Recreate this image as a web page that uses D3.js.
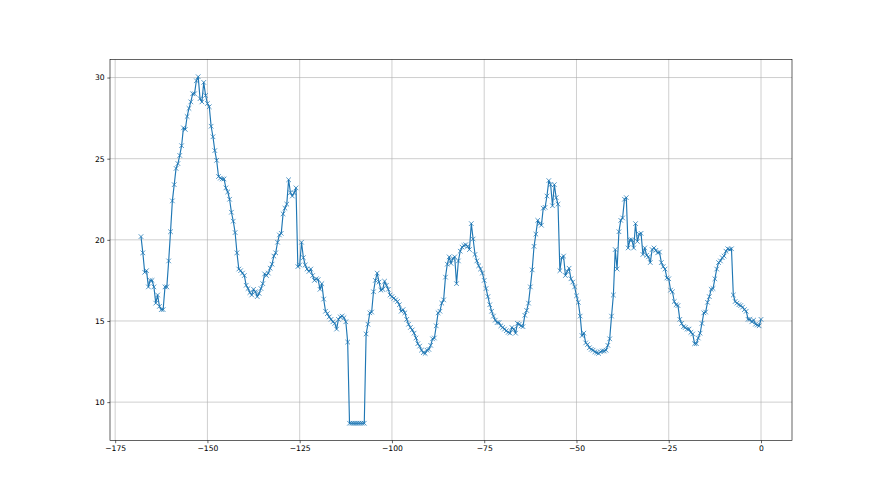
<!DOCTYPE html>
<html>
<head>
<meta charset="utf-8">
<script src="https://cdn.jsdelivr.net/npm/d3@7"></script>
<style>
  html, body { margin: 0; padding: 0; background: #ffffff; }
  svg { display: block; }
  text { font-family: "DejaVu Sans", sans-serif; }
</style>
</head>
<body>
<svg id="chart" width="880" height="495"></svg>
<script>
// time axis: half-hour steps from -168 to 0
const xStart = -168;
const xStep = 0.5;

// series values, 10 values per row = 5 units
const values = [
  20.2, 19.2, 18.0, 18.1, 17.1, 17.5, 17.5, 17.1, 16.1, 16.6,      // -168
  15.9, 15.7, 15.7, 17.1, 17.1, 18.7, 20.5, 22.4, 23.4, 24.4,      // -163
  24.7, 25.2, 25.8, 26.9, 26.8, 27.6, 28.1, 28.5, 29.0, 29.0,      // -158
  29.8, 30.05, 28.7, 28.5, 29.7, 28.9, 28.4, 28.2, 27.0, 26.35,    // -153
  25.5, 24.9, 23.9, 23.8, 23.75, 23.75, 23.2, 22.95, 22.5, 21.7,   // -148
  21.15, 20.45, 19.2, 18.2, 18.1, 17.95, 17.8, 17.2, 17.0, 16.75,  // -143
  16.6, 16.95, 16.8, 16.5, 16.7, 17.0, 17.3, 17.9, 17.8, 17.95,    // -138
  18.25, 18.5, 19.0, 19.2, 19.85, 20.3, 20.4, 21.6, 21.95, 22.2,   // -133
  23.7, 22.9, 22.7, 22.9, 23.2, 18.35, 18.45, 19.85, 18.9, 18.45,  // -128
  18.2, 18.05, 18.2, 17.8, 17.5, 17.6, 17.55, 16.95, 17.3, 16.35,  // -123
  15.6, 15.45, 15.25, 15.1, 14.95, 14.85, 14.5, 15.1, 15.25, 15.3, // -118
  15.2, 14.95, 13.7, 8.7, 8.7, 8.7, 8.7, 8.7, 8.7, 8.7,            // -113
  8.7, 8.7, 14.2, 14.8, 15.5, 15.55, 16.8, 17.5, 17.95, 17.4,      // -108
  16.9, 16.95, 17.45, 17.2, 16.95, 16.6, 16.5, 16.4, 16.3, 16.2,   // -103
  16.0, 15.6, 15.7, 15.5, 15.1, 14.8, 14.6, 14.45, 14.25, 13.95,   // -98
  13.6, 13.45, 13.2, 13.05, 13.0, 13.2, 13.25, 13.5, 13.9, 13.95,  // -93
  14.7, 15.5, 15.6, 16.1, 16.3, 17.7, 18.5, 18.95, 18.55, 18.85,   // -88
  18.95, 17.3, 18.7, 19.3, 19.55, 19.65, 19.7, 19.6, 19.4, 21.0,   // -83
  20.05, 19.1, 18.7, 18.4, 18.2, 17.95, 17.5, 17.0, 16.5, 16.0,    // -78
  15.6, 15.3, 15.05, 14.9, 14.9, 14.7, 14.6, 14.5, 14.4, 14.3,     // -73
  14.25, 14.6, 14.5, 14.25, 14.85, 14.8, 14.7, 14.65, 15.35, 15.65,// -68
  16.1, 17.1, 18.15, 19.6, 20.35, 21.2, 21.0, 20.9, 21.95, 22.0,   // -63
  22.7, 23.65, 23.4, 22.1, 23.4, 22.6, 22.2, 18.1, 18.9, 19.0,     // -58
  17.8, 18.05, 18.25, 17.6, 17.4, 17.1, 16.55, 16.15, 15.3, 14.1,  // -53
  14.25, 13.65, 13.55, 13.35, 13.25, 13.2, 13.1, 13.05, 13.0, 13.1,// -48
  13.15, 13.15, 13.2, 13.5, 13.9, 15.3, 16.6, 19.4, 18.2, 20.5,    // -43
  21.2, 21.35, 22.5, 22.6, 19.5, 20.0, 20.0, 19.5, 21.0, 19.9,     // -38
  20.35, 20.4, 19.1, 19.5, 19.05, 18.95, 18.6, 19.4, 19.5, 19.35,  // -33
  19.2, 19.25, 18.6, 18.35, 18.2, 17.65, 17.6, 16.9, 16.8, 16.2,   // -28
  16.0, 15.95, 15.1, 14.85, 14.65, 14.6, 14.5, 14.5, 14.3, 14.2,   // -23
  13.6, 13.6, 13.95, 14.25, 14.85, 15.5, 15.55, 16.15, 16.5, 16.95,// -18
  17.0, 17.6, 18.2, 18.6, 18.7, 18.9, 19.0, 19.3, 19.45, 19.4,     // -13
  19.45, 16.6, 16.2, 16.1, 16.0, 15.95, 15.85, 15.7, 15.6, 15.1,   // -8
  15.1, 14.95, 15.05, 14.8, 14.75, 14.7, 15.1                      // -3 .. 0
];

const xTicks = [-175, -150, -125, -100, -75, -50, -25, 0];
const yTicks = [10, 15, 20, 25, 30];

(function draw() {
  const data = values.map((v, i) => ({ x: xStart + i * xStep, y: v }));

  // layout (matplotlib default subplot params on 880x495)
  const W = 880, H = 495;
  const mLeft = 110, mRight = 792, mTop = 59.4, mBottom = 440.55;
  const px = 55 / 72; // points -> pixels

  const svg = d3.select("#chart");
  svg.append("rect").attr("width", W).attr("height", H).attr("fill", "#ffffff");

  const xExt = d3.extent(data, d => d.x);
  const yExt = d3.extent(data, d => d.y);
  const xPad = (xExt[1] - xExt[0]) * 0.05;
  const yPad = (yExt[1] - yExt[0]) * 0.05;

  const x = d3.scaleLinear().domain([xExt[0] - xPad, xExt[1] + xPad]).range([mLeft, mRight]);
  const y = d3.scaleLinear().domain([yExt[0] - yPad, yExt[1] + yPad]).range([mBottom, mTop]);

  // grid
  const grid = svg.append("g");
  grid.selectAll("line.gx").data(xTicks).enter().append("line")
    .attr("x1", d => x(d)).attr("x2", d => x(d))
    .attr("y1", mTop).attr("y2", mBottom)
    .attr("stroke", "#b0b0b0").attr("stroke-width", 0.8 * px);
  grid.selectAll("line.gy").data(yTicks).enter().append("line")
    .attr("x1", mLeft).attr("x2", mRight)
    .attr("y1", d => y(d)).attr("y2", d => y(d))
    .attr("stroke", "#b0b0b0").attr("stroke-width", 0.8 * px);

  // line
  const line = d3.line().x(d => x(d.x)).y(d => y(d.y));
  svg.append("path").datum(data)
    .attr("d", line)
    .attr("fill", "none")
    .attr("stroke", "#1f77b4")
    .attr("stroke-width", 1.5 * px)
    .attr("stroke-linejoin", "round")
    .attr("stroke-linecap", "butt");

  // markers 'x'
  const ms = 6 * px / 2;
  svg.append("g").selectAll("path").data(data).enter().append("path")
    .attr("transform", d => `translate(${x(d.x)},${y(d.y)})`)
    .attr("d", `M${-ms},${-ms}L${ms},${ms}M${-ms},${ms}L${ms},${-ms}`)
    .attr("fill", "none")
    .attr("stroke", "#1f77b4")
    .attr("stroke-width", 1.0 * px);

  // axes
  const tickLen = 3.5 * px, tickPad = 3.5 * px;
  const fontSize = 10 * px;

  const xAxis = d3.axisBottom(x).tickValues(xTicks).tickSize(tickLen).tickPadding(tickPad);
  const gx = svg.append("g").attr("transform", `translate(0,${mBottom})`).call(xAxis);
  const yAxis = d3.axisLeft(y).tickValues(yTicks).tickSize(tickLen).tickPadding(tickPad);
  const gy = svg.append("g").attr("transform", `translate(${mLeft},0)`).call(yAxis);

  [gx, gy].forEach(g => {
    g.select(".domain").remove();
    g.selectAll(".tick line").attr("stroke", "#000").attr("stroke-width", 0.8 * px);
    g.selectAll(".tick text")
      .attr("fill", "#000")
      .style("font-family", "'DejaVu Sans', sans-serif")
      .style("font-size", fontSize + "px");
  });

  // frame (spines)
  svg.append("rect")
    .attr("x", mLeft).attr("y", mTop)
    .attr("width", mRight - mLeft).attr("height", mBottom - mTop)
    .attr("fill", "none").attr("stroke", "#000").attr("stroke-width", 0.8 * px);
})();
</script>
</body>
</html>
